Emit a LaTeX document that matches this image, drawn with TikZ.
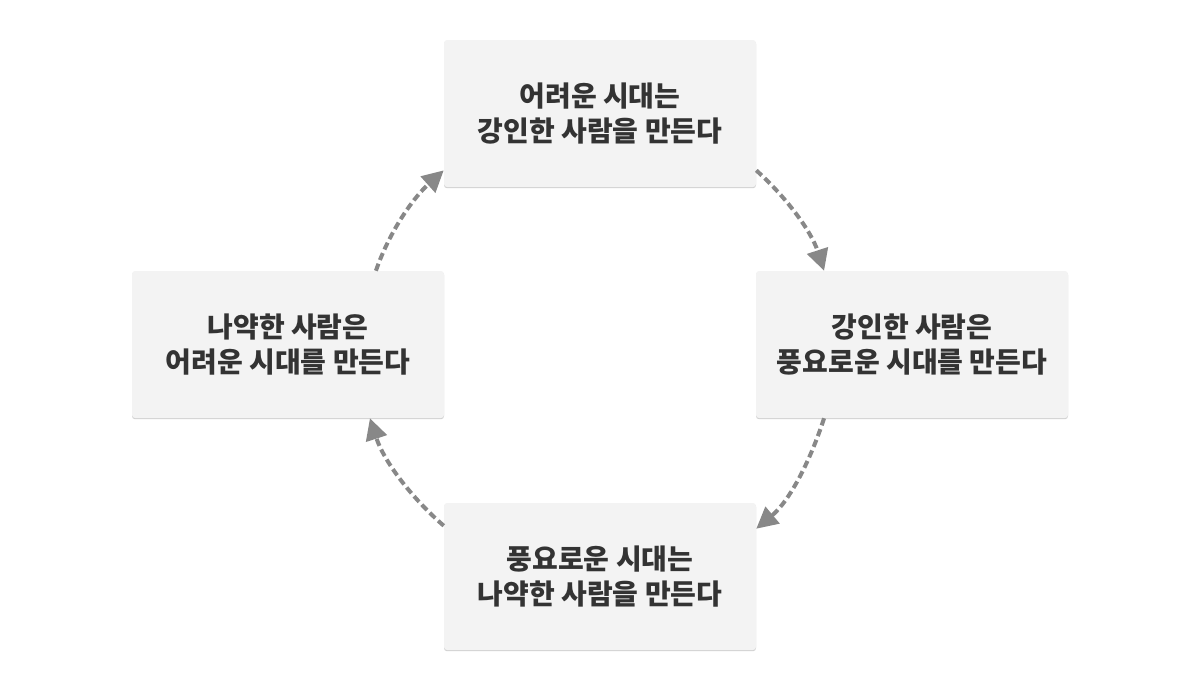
\documentclass[tikz,border=0pt]{standalone}
\usepackage{fontspec}
\setmainfont{Noto Sans CJK KR}
\usetikzlibrary{arrows.meta,shadows}
\definecolor{boxfill}{HTML}{F3F3F3}
\definecolor{textc}{HTML}{333333}
\definecolor{arrowc}{HTML}{888888}
\begin{document}
\begin{tikzpicture}[x=0.75pt,y=0.75pt,
  box/.style={rectangle, rounded corners=2.25pt, fill=boxfill, minimum width=234pt, minimum height=110.25pt,
    inner sep=0pt, align=center, text=textc, font=\fontsize{21}{26.25}\selectfont\bfseries,
    drop shadow={shadow xshift=0pt, shadow yshift=-0.9pt, opacity=0.18, fill=black}},
  flow/.style={draw=arrowc, line width=3pt, dash pattern=on 5.6pt off 3pt, looseness=0.87,
    -{Triangle[length=16pt,width=16pt]}}]
\useasboundingbox (0,0) rectangle (1200,-690);
\node[box] (top) at (600,-113.5) {어려운 시대는\\강인한 사람을 만든다};
\node[box] (right) at (912,-344.5) {강인한 사람은\\풍요로운 시대를 만든다};
\node[box] (bottom) at (600,-576.5) {풍요로운 시대는\\나약한 사람을 만든다};
\node[box] (left) at (288,-344.5) {나약한 사람은\\어려운 시대를 만든다};
\draw[flow] (top.-20) to[out=-42, in=108] (right.140);
\draw[flow] (right.-140) to[out=-108, in=40] (bottom.17);
\draw[flow] (bottom.162) to[out=139, in=-72] (left.-42);
\draw[flow] (left.40) to[out=71, in=222] (top.200);
\end{tikzpicture}
\end{document}
